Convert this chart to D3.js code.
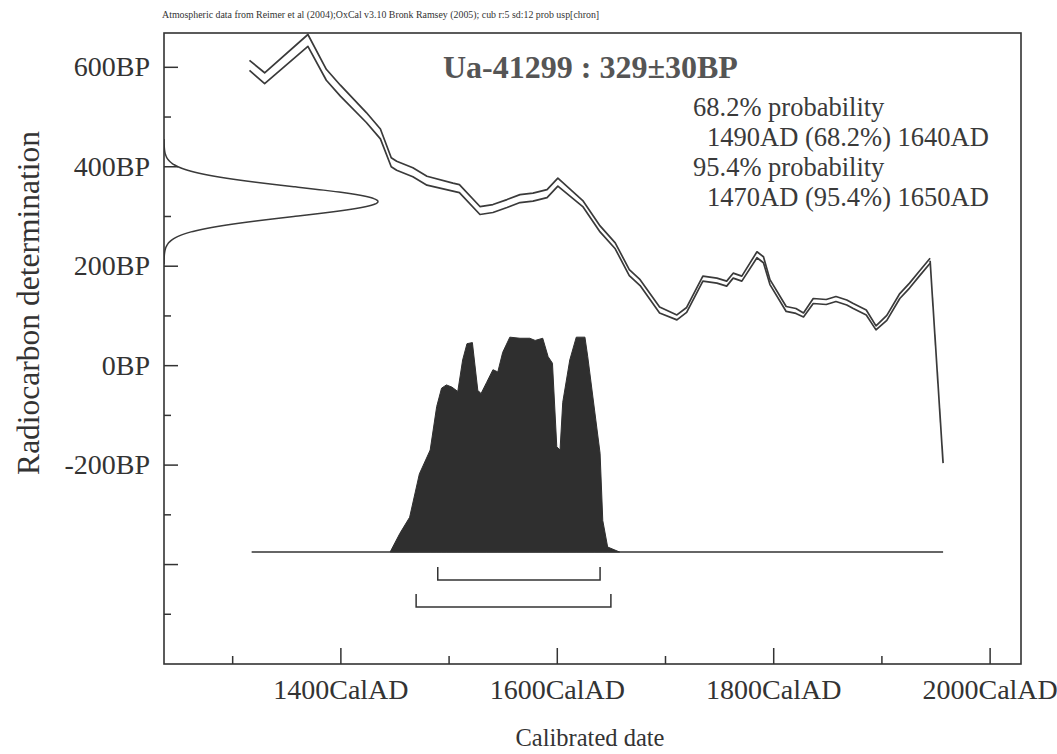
<!DOCTYPE html>
<html>
<head>
<meta charset="utf-8">
<script src="https://cdn.jsdelivr.net/npm/d3@7"></script>
<style>
  html, body { margin: 0; padding: 0; background: #fff; }
  svg { display: block; font-family: "Liberation Serif", "Times New Roman", serif; }
</style>
</head>
<body>
<svg id="chart" width="1057" height="754"></svg>
<script>
// Measurement
const sampleName = "Ua-41299";
const sampleBP = 329;
const sampleErr = 30;

// Calibration curve (IntCal04 atmospheric), mean BP and 1-sigma
const calYears = [1316, 1330, 1370, 1387, 1400, 1424, 1437, 1447, 1452, 1467, 1480, 1504, 1510, 1529, 1541, 1554, 1566, 1578, 1591, 1601, 1624, 1640, 1654, 1667, 1677, 1695, 1711, 1720, 1735, 1748, 1757, 1763, 1771, 1785, 1791, 1797, 1812, 1821, 1828, 1837, 1849, 1858, 1868, 1874, 1886, 1895, 1905, 1917, 1926, 1935, 1945];
const calBP    = [603, 577, 653, 584, 552, 498, 465, 408, 401, 388, 371, 358, 355, 311, 315, 325, 335, 338, 345, 368, 325, 274, 240, 186, 166, 111, 96, 111, 174, 170, 164, 180, 174, 222, 212, 167, 113, 109, 101, 129, 127, 133, 126, 119, 106, 75, 95, 139, 160, 184, 210];
const calErr   = [10, 11, 12, 11, 11, 10, 10, 9, 9, 9, 9, 8, 8, 8, 8, 8, 8, 8, 8, 8, 6, 6, 6, 6, 6, 6, 5, 5, 5, 5, 5, 5, 5, 6, 6, 5, 5, 5, 4, 5, 5, 5, 5, 5, 5, 4, 5, 5, 5, 5, 5];

// Single-line tail of the curve past 1945
const tailYears = [1945, 1957];
const tailBP    = [210, -197];

// Calibrated probability distribution (relative to its maximum)
const probYears = [1446, 1455, 1464, 1473, 1483, 1489, 1493.5, 1498, 1503, 1508.5, 1513, 1517, 1522, 1527, 1530, 1535, 1541, 1545.5, 1550, 1556.6, 1566, 1575, 1580, 1587, 1592, 1596, 1600, 1603, 1605.5, 1612, 1618, 1626, 1628.6, 1635, 1640, 1642.5, 1647, 1658];
const probValues = [0, 0.086, 0.16, 0.36, 0.47, 0.67, 0.755, 0.77, 0.76, 0.74, 0.885, 0.96, 0.965, 0.745, 0.73, 0.78, 0.84, 0.83, 0.92, 0.99, 0.985, 0.985, 0.975, 0.985, 0.9, 0.87, 0.485, 0.47, 0.69, 0.885, 0.99, 0.99, 0.9, 0.65, 0.455, 0.145, 0.023, 0];
const probSpan = [1318, 1957];

// Calibrated ranges
const range68 = [1490, 1640];
const range95 = [1470, 1650];

// Axis ticks
const xMajorTicks = [1400, 1600, 1800, 2000];
const xMinorTicks = [1300, 1500, 1700, 1900];
const yMajorTicks = [-400, -200, 0, 200, 400, 600];
const yLabelTicks = [-200, 0, 200, 400, 600];
const yMinorTicks = [-500, -300, -100, 100, 300, 500];

// Text
const creditText = "Atmospheric data from Reimer et al (2004);OxCal v3.10 Bronk Ramsey (2005); cub r:5 sd:12 prob usp[chron]";
const rangeLines = [
  {text: "68.2% probability", indent: 0},
  {text: "1490AD (68.2%) 1640AD", indent: 1},
  {text: "95.4% probability", indent: 0},
  {text: "1470AD (95.4%) 1650AD", indent: 1}
];

// ---- layout ----
const ink = "#333";
const frame = {left: 164, right: 1021, top: 33, bottom: 664};

const svg = d3.select("#chart");
svg.append("rect").attr("width", 1057).attr("height", 754).attr("fill", "#fff");

const x = d3.scaleLinear().domain([1237, 2029]).range([frame.left, frame.right]);
const y = d3.scaleLinear().domain([-601, 668]).range([frame.bottom, frame.top]);
const py = d3.scaleLinear().domain([0, 1]).range([552, 335]);
const gx = d3.scaleLinear().domain([0, 1]).range([frame.left, 378]);

svg.append("clipPath").attr("id", "plotClip")
  .append("rect")
  .attr("x", frame.left).attr("y", frame.top)
  .attr("width", frame.right - frame.left).attr("height", frame.bottom - frame.top);

const plot = svg.append("g").attr("clip-path", "url(#plotClip)");

// Calibrated distribution
const probData = probYears.map((yr, i) => ({yr, p: probValues[i]}));
plot.append("path")
  .datum(probData)
  .attr("d", d3.area().x(d => x(d.yr)).y0(py(0)).y1(d => py(d.p)))
  .attr("fill", "#2f2f2f")
  .attr("stroke", "#2f2f2f")
  .attr("stroke-width", 1);

plot.append("line")
  .attr("x1", x(probSpan[0])).attr("x2", x(probSpan[1]))
  .attr("y1", py(0)).attr("y2", py(0))
  .attr("stroke", ink).attr("stroke-width", 1.5);

// Calibration curve envelope
const cal = calYears.map((yr, i) => ({yr, bp: calBP[i], e: calErr[i]}));
[1, -1].forEach(s => {
  plot.append("path")
    .datum(cal)
    .attr("d", d3.line().x(d => x(d.yr)).y(d => y(d.bp + s * d.e)))
    .attr("fill", "none")
    .attr("stroke", "#3a3a3a")
    .attr("stroke-width", 1.7)
    .attr("stroke-linejoin", "round");
});
plot.append("path")
  .datum(tailYears.map((yr, i) => ({yr, bp: tailBP[i]})))
  .attr("d", d3.line().x(d => x(d.yr)).y(d => y(d.bp)))
  .attr("fill", "none")
  .attr("stroke", "#3a3a3a")
  .attr("stroke-width", 1.7);

// Radiocarbon measurement as a normal curve on the BP axis
const gauss = d3.range(sampleBP - 4.2 * sampleErr, sampleBP + 4.2 * sampleErr + 0.5, 1)
  .map(bp => ({bp, d: Math.exp(-0.5 * Math.pow((bp - sampleBP) / sampleErr, 2))}));
plot.append("path")
  .datum(gauss)
  .attr("d", d3.line().x(d => gx(d.d)).y(d => y(d.bp)).curve(d3.curveBasis))
  .attr("fill", "none")
  .attr("stroke", "#3a3a3a")
  .attr("stroke-width", 1.5);

// Range brackets
function bracket(range, yb) {
  const p = d3.path();
  p.moveTo(x(range[0]), yb - 13);
  p.lineTo(x(range[0]), yb);
  p.lineTo(x(range[1]), yb);
  p.lineTo(x(range[1]), yb - 13);
  svg.append("path").attr("d", p.toString())
    .attr("fill", "none").attr("stroke", ink).attr("stroke-width", 1.5);
}
bracket(range68, 580);
bracket(range95, 607);

// Frame
svg.append("rect")
  .attr("x", frame.left).attr("y", frame.top)
  .attr("width", frame.right - frame.left).attr("height", frame.bottom - frame.top)
  .attr("fill", "none").attr("stroke", ink).attr("stroke-width", 1.6);

// Y axis
const yAxisG = svg.append("g").attr("transform", `translate(${frame.left},0)`);
yAxisG.call(d3.axisLeft(y).tickValues(yMajorTicks).tickSize(-14).tickPadding(14)
  .tickFormat(d => yLabelTicks.includes(d) ? d + "BP" : ""));
yAxisG.append("g").call(d3.axisLeft(y).tickValues(yMinorTicks).tickSize(-7).tickFormat(""));
yAxisG.selectAll(".domain").remove();
yAxisG.selectAll("line").attr("stroke", ink).attr("stroke-width", 1.5);
yAxisG.selectAll("text").attr("font-size", 28).attr("fill", ink)
  .attr("font-family", "Liberation Serif, serif");

// X axis
const xAxisG = svg.append("g").attr("transform", `translate(0,${frame.bottom})`);
xAxisG.call(d3.axisBottom(x).tickValues(xMajorTicks).tickSize(-16).tickPadding(15)
  .tickFormat(d => d + "CalAD"));
xAxisG.append("g").call(d3.axisBottom(x).tickValues(xMinorTicks).tickSize(-8).tickFormat(""));
xAxisG.selectAll(".domain").remove();
xAxisG.selectAll("line").attr("stroke", ink).attr("stroke-width", 1.5);
xAxisG.selectAll("text").attr("font-size", 28).attr("fill", ink)
  .attr("font-family", "Liberation Serif, serif");

// Axis titles
svg.append("text")
  .attr("x", 590).attr("y", 746)
  .attr("text-anchor", "middle")
  .attr("font-size", 24.5).attr("fill", ink)
  .text("Calibrated date");
svg.append("text")
  .attr("transform", "translate(39,303) rotate(-90)")
  .attr("text-anchor", "middle")
  .attr("font-size", 31.5).attr("fill", ink)
  .text("Radiocarbon determination");

// Header texts
svg.append("text")
  .attr("x", 162).attr("y", 18)
  .attr("font-size", 9.9).attr("fill", ink)
  .text(creditText);

svg.append("text")
  .attr("x", 443).attr("y", 78)
  .attr("font-size", 32).attr("font-weight", "bold").attr("fill", "#555")
  .text(`${sampleName} : ${sampleBP}\u00B1${sampleErr}BP`);

svg.append("g").selectAll("text")
  .data(rangeLines)
  .join("text")
  .attr("x", d => 693 + d.indent * 14)
  .attr("y", (d, i) => 116 + i * 30)
  .attr("font-size", 26.5).attr("fill", "#3a3a3a")
  .text(d => d.text);
</script>
</body>
</html>
